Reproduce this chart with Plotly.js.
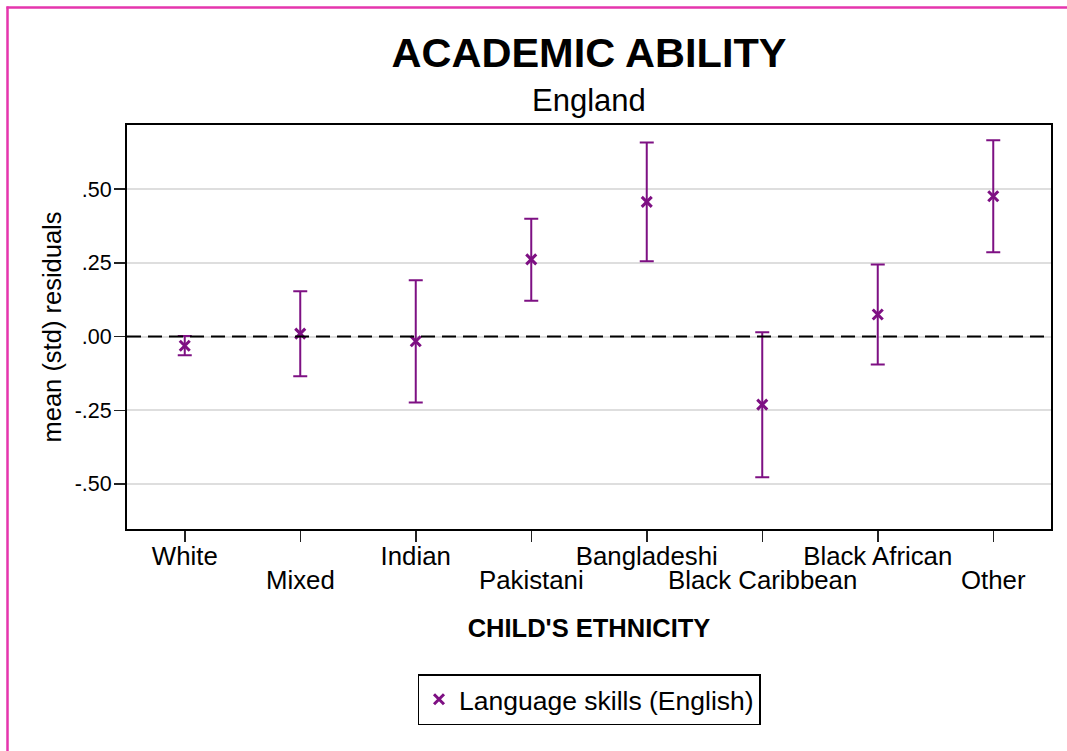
<!DOCTYPE html>
<html>
<head>
<meta charset="utf-8">
<script src="https://cdn.plot.ly/plotly-3.0.1.min.js"></script>
<style>
  html, body { margin: 0; padding: 0; background: #ffffff; }
  #chart { width: 1067px; height: 751px; }
</style>
</head>
<body>
<div id="chart"></div>
<script>
// ---- data ----
const categories = ['White', 'Mixed', 'Indian', 'Pakistani', 'Bangladeshi', 'Black Caribbean', 'Black African', 'Other'];
const means = [-0.031, 0.010, -0.016, 0.262, 0.457, -0.231, 0.075, 0.476];
const upper = [0.002, 0.154, 0.191, 0.400, 0.659, 0.015, 0.245, 0.666];
const lower = [-0.063, -0.135, -0.224, 0.122, 0.256, -0.477, -0.095, 0.286];
const yTickVals = [-0.5, -0.25, 0, 0.25, 0.5];
const yTickText = ['-.50', '-.25', '.00', '.25', '.50'];
const seriesName = 'Language skills (English)';

// ---- derived ----
const xIdx = categories.map((c, i) => i);
const errPlus = upper.map((u, i) => u - means[i]);
const errMinus = lower.map((l, i) => means[i] - l);
const topRow = categories.map((c, i) => (i % 2 === 0 ? c : ''));

const FONT = 'Liberation Sans, Arial, Helvetica, sans-serif';
const PURPLE = '#7e1083';
const PINK = '#e535ad';

const W = 1067, H = 751;
const mL = 127, mR = 16, mT = 125, mB = 222;
const plotW = W - mL - mR, plotH = H - mT - mB;
const px2paperX = px => (px - mL) / plotW;
const px2paperY = py => (H - mB - py) / plotH;

const trace = {
  type: 'scatter',
  mode: 'markers',
  x: xIdx,
  y: means,
  name: seriesName,
  marker: { symbol: 'x-thin', size: 10, color: PURPLE, line: { color: PURPLE, width: 3 } },
  error_y: {
    type: 'data', symmetric: false,
    array: errPlus, arrayminus: errMinus,
    color: PURPLE, thickness: 2, width: 7
  },
  showlegend: true,
  hoverinfo: 'x+y'
};

const bottomRowAnn = categories.map((c, i) => (i % 2 === 1 ? {
  text: c, x: i, xref: 'x', y: px2paperY(564), yref: 'paper',
  xanchor: 'center', yanchor: 'top', showarrow: false,
  font: { family: FONT, size: 25.8, color: '#000' }
} : null)).filter(a => a);

const layout = {
  width: W, height: H,
  margin: { l: mL, r: mR, t: mT, b: mB, pad: 0 },
  paper_bgcolor: '#ffffff',
  plot_bgcolor: '#ffffff',
  font: { family: FONT, color: '#000' },
  title: {
    text: '<b>ACADEMIC ABILITY</b>',
    font: { family: FONT, size: 41.5, color: '#000' },
    xref: 'paper', x: 0.5, xanchor: 'center',
    yref: 'container', y: 1 - 52.5 / H, yanchor: 'middle'
  },
  xaxis: {
    range: [-0.5, 7.5],
    tickmode: 'array', tickvals: xIdx, ticktext: topRow,
    ticks: 'outside', ticklen: 11, tickwidth: 1.5, tickcolor: '#222',
    ticklabelstandoff: -8,
    tickfont: { family: FONT, size: 25.8, color: '#000' },
    showgrid: false, zeroline: false,
    showline: true, linecolor: '#000', linewidth: 2, mirror: true,
    fixedrange: true,
    title: {
      text: "<b>CHILD'S ETHNICITY</b>",
      font: { family: FONT, size: 25.5, color: '#000' },
      standoff: 50
    }
  },
  yaxis: {
    range: [-0.653, 0.718],
    tickmode: 'array', tickvals: yTickVals, ticktext: yTickText,
    ticks: 'outside', ticklen: 11, tickwidth: 1.5, tickcolor: '#222',
    ticklabelstandoff: -2,
    tickfont: { family: FONT, size: 21.5, color: '#000' },
    showgrid: true, gridcolor: '#dedede', gridwidth: 2,
    zeroline: false,
    showline: true, linecolor: '#000', linewidth: 2, mirror: true,
    fixedrange: true,
    title: {
      text: 'mean (std) residuals',
      font: { family: FONT, size: 25.5, color: '#000' },
      standoff: 6
    }
  },
  showlegend: true,
  legend: {
    orientation: 'h',
    x: 0.5, xanchor: 'center', xref: 'paper',
    y: px2paperY(674), yanchor: 'top', yref: 'paper',
    bgcolor: '#ffffff', bordercolor: '#000', borderwidth: 1.5,
    font: { family: FONT, size: 26.5, color: '#000' }
  },
  annotations: bottomRowAnn.concat([
    {
      text: 'England', xref: 'paper', x: 0.5, yref: 'paper', y: px2paperY(101),
      xanchor: 'center', yanchor: 'middle', showarrow: false,
      font: { family: FONT, size: 31, color: '#000' }
    }
  ]),
  shapes: [
    { type: 'line', xref: 'paper', yref: 'y', x0: 0, x1: 1, y0: 0, y1: 0,
      line: { color: '#000', width: 2, dash: '14px,7px' }, layer: 'above' },
    { type: 'line', xref: 'paper', yref: 'paper',
      x0: px2paperX(7.5), x1: px2paperX(7.5), y0: px2paperY(6.5), y1: px2paperY(H + 5),
      line: { color: PINK, width: 2.5 } },
    { type: 'line', xref: 'paper', yref: 'paper',
      x0: px2paperX(6.5), x1: px2paperX(W + 5), y0: px2paperY(7.5), y1: px2paperY(7.5),
      line: { color: PINK, width: 2.5 } }
  ]
};

Plotly.newPlot('chart', [trace], layout, { displayModeBar: false, staticPlot: true });
</script>
</body>
</html>
